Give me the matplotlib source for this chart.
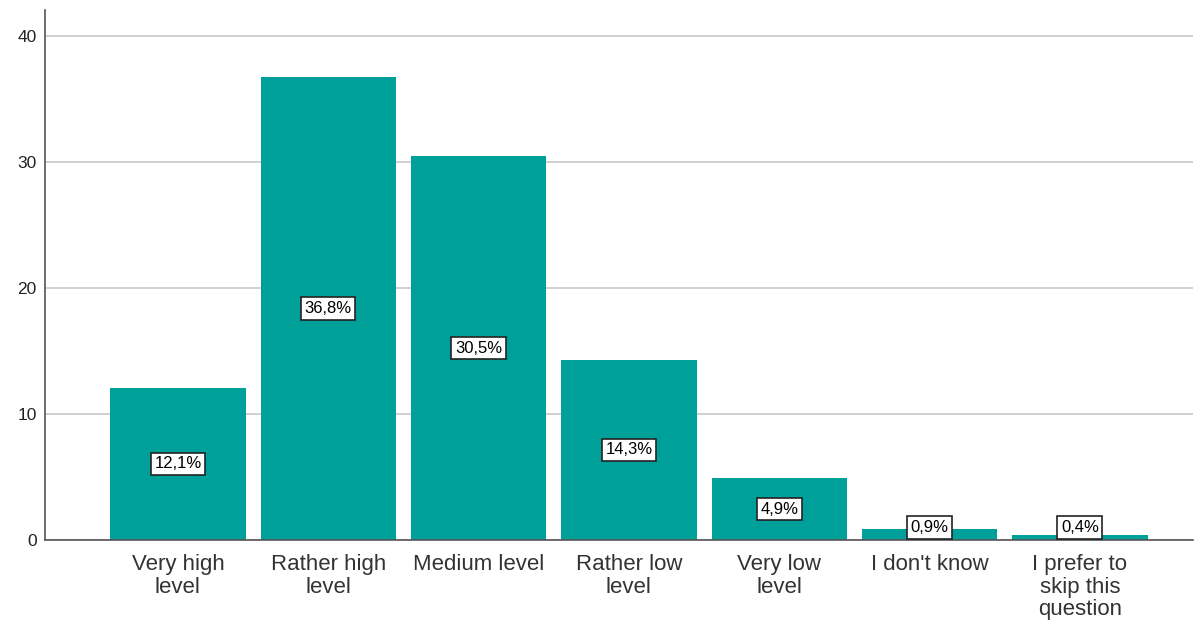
import matplotlib.pyplot as plt

plt.rcParams['font.family'] = ['Liberation Sans', 'DejaVu Sans']

categories = ["Very high\nlevel", "Rather high\nlevel", "Medium level", "Rather low\nlevel",
              "Very low\nlevel", "I don't know", "I prefer to\nskip this\nquestion"]
percents = [12.1, 36.8, 30.5, 14.3, 4.9, 0.9, 0.4]

bar_color = '#00A09A'

fig = plt.figure(figsize=(11.95, 6.22), dpi=100)
ax = fig.add_axes([0.0377, 0.1318, 0.9603, 0.8522])

x = list(range(len(categories)))
ax.bar(x, percents, width=0.9, color=bar_color, zorder=2)

# value labels sit at half height, but never below the baseline
for xi, v in zip(x, percents):
    y = max(v / 2, 1.0)
    label = f"{v:.1f}%".replace('.', ',')
    ax.text(xi, y, label, ha='center', va='center', fontsize=12, zorder=3,
            bbox=dict(boxstyle='square,pad=0.22', facecolor='white', edgecolor='#222222', linewidth=1.2))

ax.set_xlim(-0.884, 6.75)
ax.set_ylim(0, 42.1)
ax.set_yticks([0, 10, 20, 30, 40])
ax.set_xticks(x)
ax.set_xticklabels(categories, fontsize=16, color='#333333', linespacing=1.1)
ax.tick_params(axis='y', labelsize=12.5, length=0, pad=6, colors='#222222')
ax.tick_params(axis='x', length=0, pad=10)

ax.grid(axis='y', color='#c8c8c8', linewidth=1.2, zorder=0)
for side in ['top', 'right']:
    ax.spines[side].set_visible(False)
for side in ['left', 'bottom']:
    ax.spines[side].set_color('#555555')
    ax.spines[side].set_linewidth(1.2)

fig.savefig('out.png', dpi=100)
